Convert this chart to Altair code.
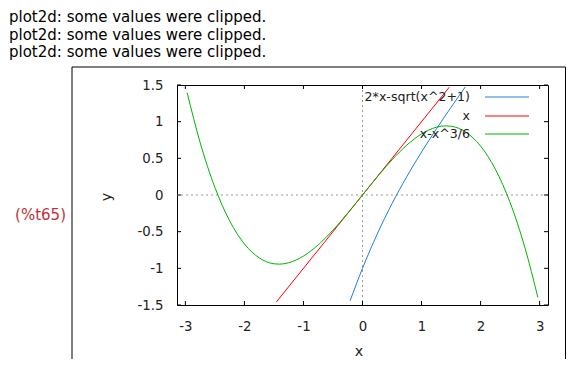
import altair as alt
import pandas as pd

# ---- data ----
blue_x = [-0.21, 0.0, 0.25, 0.5, 0.75, 1.0, 1.25, 1.5, 1.74]
blue_y = [-1.442, -1.0, -0.531, -0.118, 0.25, 0.586, 0.899, 1.197, 1.473]

red_x = [-1.46, 0.0, 1.47]
red_y = [-1.46, 0.0, 1.47]

green_x = [-2.97, -2.75, -2.5, -2.25, -2.0, -1.75, -1.5, -1.41, -1.25, -1.0, -0.75, -0.5, -0.25,
           0.0, 0.25, 0.5, 0.75, 1.0, 1.25, 1.41, 1.5, 1.75, 2.0, 2.25, 2.5, 2.75, 2.97]
green_y = [1.396, 0.716, 0.104, -0.352, -0.667, -0.857, -0.938, -0.943, -0.924, -0.833, -0.680, -0.479, -0.247,
           0.0, 0.247, 0.479, 0.680, 0.833, 0.924, 0.943, 0.938, 0.857, 0.667, 0.352, -0.104, -0.716, -1.396]

x_ticks = [-3, -2, -1, 0, 1, 2, 3]
y_ticks = [-1.5, -1, -0.5, 0, 0.5, 1, 1.5]

legend_labels = ["2*x-sqrt(x^2+1)", "x", "x-x^3/6"]
series_colors = ["#1f80e0", "#ff0000", "#00b400"]

messages = ["plot2d: some values were clipped."] * 3
cell_label = "(%t65)"
x_title = "x"
y_title = "y"

W, H = 371, 220
PAD_L, PAD_T, PAD_R, PAD_B = 169, 77, 18, 54
GP_FONT = 13.3
LEG_FONT = 12.6
MSG_FONT = 15

xs = alt.Scale(domain=[-3.14159, 3.14159], nice=False, zero=False)
ys = alt.Scale(domain=[-1.5, 1.5], nice=False, zero=False)

x_axis = alt.Axis(values=x_ticks, ticks=False, domain=False, grid=False, title=None,
                  labelPadding=14, labelFontSize=GP_FONT, labelColor="#222",
                  labelExpr="toString(datum.value)", labelFlush=False)
y_axis = alt.Axis(values=y_ticks, ticks=False, domain=False, grid=False, title=None,
                  labelPadding=14, labelFontSize=GP_FONT, labelColor="#222",
                  labelExpr="toString(datum.value)", labelFlush=False)


def curve(xv, yv, color):
    df = pd.DataFrame({"x": xv, "y": yv})
    return alt.Chart(df).mark_line(color=color, strokeWidth=1, clip=True,
                                   interpolate="monotone").encode(
        x=alt.X("x:Q", scale=xs, axis=x_axis),
        y=alt.Y("y:Q", scale=ys, axis=y_axis),
        order="x:Q")


layers = []

# zero axes (dotted)
zero_df = pd.DataFrame({"v": [0]})
layers.append(alt.Chart(zero_df).mark_rule(color="#999999", strokeDash=[2, 3], strokeWidth=1).encode(
    x=alt.X("v:Q", scale=xs, axis=x_axis)))
layers.append(alt.Chart(zero_df).mark_rule(color="#999999", strokeDash=[2, 3], strokeWidth=1).encode(
    y=alt.Y("v:Q", scale=ys, axis=y_axis)))

# inward mirrored ticks
xt = alt.Chart(pd.DataFrame({"t": x_ticks}))
yt = alt.Chart(pd.DataFrame({"t": y_ticks}))
layers.append(xt.mark_rule(color="black").encode(x=alt.X("t:Q", scale=xs, axis=x_axis),
                                                 y=alt.value(H), y2=alt.value(H - 4)))
layers.append(xt.mark_rule(color="black").encode(x=alt.X("t:Q", scale=xs, axis=x_axis),
                                                 y=alt.value(0), y2=alt.value(4)))
layers.append(yt.mark_rule(color="black").encode(y=alt.Y("t:Q", scale=ys, axis=y_axis),
                                                 x=alt.value(0), x2=alt.value(4)))
layers.append(yt.mark_rule(color="black").encode(y=alt.Y("t:Q", scale=ys, axis=y_axis),
                                                 x=alt.value(W - 4), x2=alt.value(W)))

# curves (blue, red, green drawn in that order)
layers.append(curve(blue_x, blue_y, series_colors[0]))
layers.append(curve(red_x, red_y, series_colors[1]))
layers.append(curve(green_x, green_y, series_colors[2]))

one = alt.Chart(pd.DataFrame({"a": [0]}))

# legend
legend_rows = [12, 31, 49]
for lab, col, ry in zip(legend_labels, series_colors, legend_rows):
    layers.append(one.mark_text(text=lab, align="right", baseline="middle", fontSize=LEG_FONT,
                                color="#222").encode(x=alt.value(293), y=alt.value(ry)))
    layers.append(one.mark_rule(color=col, strokeWidth=1).encode(
        x=alt.value(308), x2=alt.value(352), y=alt.value(ry)))

# axis titles
layers.append(one.mark_text(text=x_title, align="center", baseline="middle", fontSize=GP_FONT + 1,
                            color="#222").encode(x=alt.value(182), y=alt.value(267)))
layers.append(one.mark_text(text=y_title, align="center", baseline="middle", fontSize=GP_FONT + 1,
                            color="#222").encode(x=alt.value(-70), y=alt.value(112),
                                                 angle=alt.value(270)))

# outer box of the output cell (bottom edge lies at the window's edge)
box_l, box_t = -105, -18
box_r = W + PAD_R - 0.5
box_b = H + PAD_B
for (x1, x2, y1, y2) in [(box_l, box_r, box_t, box_t), (box_l, box_l, box_t, box_b),
                         (box_r, box_r, box_t, box_b)]:
    layers.append(one.mark_rule(color="black", strokeWidth=1).encode(
        x=alt.value(x1), x2=alt.value(x2), y=alt.value(y1), y2=alt.value(y2)))

# messages above the plot and cell label
for msg, by in zip(messages, [-63, -45.5, -28]):
    layers.append(one.mark_text(text=msg, align="left", baseline="alphabetic", fontSize=MSG_FONT,
                                color="black").encode(x=alt.value(-168), y=alt.value(by)))
layers.append(one.mark_text(text=cell_label, align="right", baseline="middle", fontSize=15,
                            color="#c0303a").encode(x=alt.value(-111), y=alt.value(130)))

chart = alt.layer(*layers).properties(
    width=W, height=H,
    padding={"left": PAD_L, "top": PAD_T, "right": PAD_R, "bottom": PAD_B},
    autosize=alt.AutoSizeParams(type="none"),
).configure(font="DejaVu Sans").configure_view(stroke="black", strokeWidth=1)

chart.save("out.html", embed_options={"renderer": "svg", "actions": False})
